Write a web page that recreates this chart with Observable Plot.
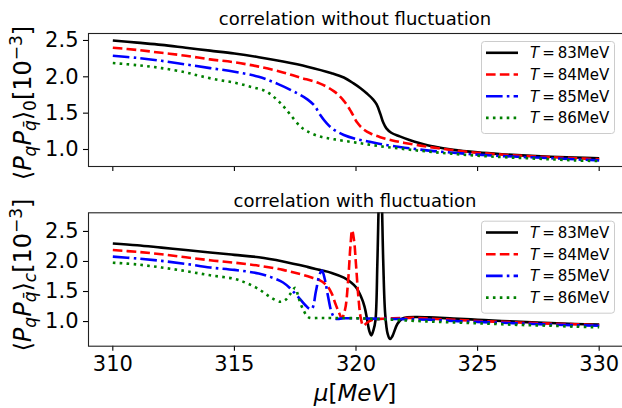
<!DOCTYPE html>
<html>
<head>
<meta charset="utf-8">
<script src="https://cdn.jsdelivr.net/npm/d3@7"></script>
<script src="https://cdn.jsdelivr.net/npm/@observablehq/plot@0.6"></script>
<style>
  html, body { margin: 0; padding: 0; background: white; }
  #wrap { position: relative; width: 622px; height: 408px; overflow: hidden; }
  #wrap svg { position: absolute; left: 0; display: block; }
</style>
</head>
<body>
<div id="wrap"></div>
<script>
// ---------- data ----------
const temps = [83, 84, 85, 86];
const xTicks = [310, 315, 320, 325, 330];
const yTicks = [1.0, 1.5, 2.0, 2.5];
const titleTop = "correlation without fluctuation";
const titleBottom = "correlation with fluctuation";

// top panel: without fluctuation
const muTop83 = [310,311,312,313,314,315,316,317,318,319,319.5,319.9,320.2,320.45,320.7,320.85,321.0,321.12,321.25,321.45,321.8,322.2,322.6,323.2,324,325,326,327,328,329,330];
const valTop83 = [2.50,2.47,2.44,2.40,2.36,2.32,2.27,2.21,2.14,2.05,1.99,1.91,1.84,1.77,1.69,1.62,1.49,1.37,1.29,1.23,1.18,1.13,1.09,1.04,0.995,0.96,0.935,0.915,0.90,0.89,0.88];
const muTop84 = [310,311,312,313,314,315,316,317,317.7,318.5,319.1,319.5,319.8,320.05,320.3,320.6,321,321.5,322,323,324,325,326,327,328,329,330];
const valTop84 = [2.40,2.37,2.33,2.29,2.24,2.20,2.14,2.06,1.99,1.91,1.80,1.67,1.52,1.37,1.28,1.22,1.17,1.125,1.09,1.035,0.99,0.955,0.93,0.91,0.895,0.88,0.865];
const muTop85 = [310,311,312,313,314,315,316,316.8,317.6,318.0,318.3,318.5,318.8,319.1,319.5,320,320.5,321,322,323,324,325,326,327,328,329,330];
const valTop85 = [2.29,2.26,2.22,2.17,2.12,2.07,2.00,1.90,1.77,1.69,1.60,1.49,1.36,1.27,1.20,1.145,1.11,1.075,1.025,0.985,0.955,0.93,0.91,0.895,0.88,0.865,0.85];
const muTop86 = [310,311,312,313,313.6,314.3,315,315.7,316.3,316.7,317.0,317.3,317.7,318.0,318.5,319.1,320,321,322,323,324,325,326,327,328,329,330];
const valTop86 = [2.19,2.16,2.12,2.06,2.01,1.96,1.92,1.86,1.80,1.70,1.60,1.48,1.32,1.25,1.18,1.14,1.095,1.045,1.005,0.97,0.94,0.915,0.895,0.88,0.865,0.85,0.84];

// bottom panel: with fluctuation
const muBot83 = [310,311,312,313,314,315,316,317,318,318.5,319,319.5,319.8,320.0,320.2,320.35,320.45,320.55,320.63,320.72,320.8,320.88,320.95,321.0,321.05,321.12,321.2,321.3,321.4,321.5,321.7,321.9,322.1,322.5,323,324,325,326,327,328,329,330];
const valBot83 = [2.30,2.27,2.23,2.19,2.15,2.11,2.07,2.00,1.91,1.86,1.81,1.73,1.65,1.57,1.42,1.25,1.05,0.84,0.77,0.86,1.02,2.0,3.2,3.6,3.2,2.0,1.13,0.80,0.71,0.76,0.96,1.05,1.07,1.075,1.07,1.05,1.03,1.01,0.99,0.975,0.96,0.95];
const muBot84 = [310,311,312,313,314,315,316,317,317.7,318.2,318.5,318.8,319.0,319.15,319.3,319.42,319.55,319.68,319.77,319.84,319.92,320.0,320.1,320.2,320.3,320.45,320.7,321,321.5,322,322.5,323,324,325,326,327,328,329,330];
const valBot84 = [2.19,2.16,2.12,2.07,2.02,1.98,1.93,1.86,1.79,1.73,1.69,1.60,1.47,1.30,1.15,1.06,1.20,1.70,2.25,2.52,2.35,1.95,1.40,1.05,0.93,0.98,1.03,1.045,1.055,1.06,1.06,1.05,1.03,1.01,0.995,0.98,0.965,0.955,0.94];
const muBot85 = [310,311,312,313,314,315,316,316.5,317,317.3,317.6,317.9,318.1,318.2,318.35,318.5,318.6,318.72,318.85,319.0,319.15,319.5,320,320.5,321,322,323,324,325,326,327,328,329,330];
const valBot85 = [2.08,2.05,2.01,1.96,1.90,1.86,1.80,1.74,1.65,1.55,1.42,1.28,1.21,1.22,1.50,1.78,1.85,1.70,1.42,1.15,1.05,1.055,1.055,1.05,1.045,1.04,1.03,1.01,0.995,0.98,0.965,0.95,0.94,0.93];
const muBot86 = [310,311,312,313,314,315,315.5,316,316.5,316.9,317.1,317.3,317.5,317.65,317.85,318.05,318.5,319,320,321,322,323,324,325,326,327,328,329,330];
const valBot86 = [1.98,1.95,1.90,1.84,1.77,1.71,1.64,1.54,1.40,1.33,1.36,1.46,1.56,1.38,1.18,1.07,1.06,1.06,1.055,1.04,1.02,1.00,0.985,0.97,0.955,0.94,0.93,0.915,0.905];

// ---------- styles ----------
const colors = ["black", "red", "blue", "green"];
const lw = 2.6;
const dashes = [null, "9.6,4.2", "16.6,4.2,2.6,4.2", "2.6,4.3"];
const FONT = "DejaVu Sans";

const topSeries = [[muTop83, valTop83], [muTop84, valTop84], [muTop85, valTop85], [muTop86, valTop86]];
const botSeries = [[muBot83, valBot83], [muBot84, valBot84], [muBot85, valBot85], [muBot86, valBot86]];

function makePanel({height, marginTop, marginBottom, yDomain, series, xLabels}) {
  const lineMarks = series.map(([mu, val], i) =>
    Plot.line(mu.map((m, k) => ({mu: m, v: val[k]})), {
      x: "mu", y: "v", stroke: colors[i], strokeWidth: lw,
      strokeDasharray: dashes[i], strokeLinecap: "butt", strokeLinejoin: "round",
      curve: "catmull-rom", clip: true
    })
  );
  return Plot.plot({
    width: 622, height,
    marginLeft: 88, marginRight: -1, marginTop, marginBottom,
    style: {fontFamily: FONT, color: "black", background: "white", overflow: "visible"},
    x: {domain: [309, 331]},
    y: {domain: yDomain},
    marks: [
      ...lineMarks,
      Plot.axisY({ticks: yTicks, tickFormat: d3.format(".1f"), tickSize: 5, tickPadding: 5,
                  fontSize: 21, label: null, strokeWidth: 1.1}),
      Plot.axisX({ticks: xTicks, tickFormat: xLabels ? d3.format("d") : () => "", tickSize: 5,
                  tickPadding: 5, fontSize: 21, label: null, strokeWidth: 1.1}),
      Plot.frame({stroke: "#222", strokeWidth: 1.1})
    ]
  });
}

const topSvg = makePanel({height: 180, marginTop: 33, marginBottom: 14, yDomain: [0.766, 2.596], series: topSeries, xLabels: false});
const botSvg = makePanel({height: 228, marginTop: 32.3, marginBottom: 62.3, yDomain: [0.59, 2.81], series: botSeries, xLabels: true});
topSvg.style.top = "0px";
botSvg.style.top = "180px";
const wrap = document.getElementById("wrap");
wrap.appendChild(topSvg);
wrap.appendChild(botSvg);

function addTitle(svg, text, y) {
  d3.select(svg).append("text").attr("x", 355).attr("y", y).attr("text-anchor", "middle")
    .attr("font-family", FONT).attr("font-size", 18).attr("fill", "black").text(text);
}
addTitle(topSvg, titleTop, 25);
addTitle(botSvg, titleBottom, 26.5);

function addYLabel(svg, cx, cy, sub, subItalic) {
  const t = d3.select(svg).append("text")
    .attr("transform", `translate(${cx},${cy}) rotate(-90)`)
    .attr("text-anchor", "middle").attr("font-family", FONT).attr("font-size", 24).attr("fill", "black");
  t.append("tspan").text("\u27E8");
  t.append("tspan").attr("font-style", "italic").text("P");
  t.append("tspan").attr("font-style", "italic").attr("font-size", 17).attr("dy", 5).text("q");
  t.append("tspan").attr("font-style", "italic").attr("dy", -5).text("P");
  t.append("tspan").attr("font-style", "italic").attr("font-size", 17).attr("dy", 5).text("q\u0304");
  t.append("tspan").attr("dy", -5).text("\u27E9");
  t.append("tspan").attr("font-size", 17).attr("dy", 5).attr("font-style", subItalic ? "italic" : "normal").text(sub);
  t.append("tspan").attr("dy", -5).text("[10");
  t.append("tspan").attr("font-size", 17).attr("dy", -9).text("\u22123");
  t.append("tspan").attr("dy", 9).text("]");
}
addYLabel(topSvg, 31, 103, "0", false);
addYLabel(botSvg, 31, 95, "c", true);

// x label
{
  const t = d3.select(botSvg).append("text").attr("x", 355).attr("y", 220.7).attr("text-anchor", "middle")
    .attr("font-family", FONT).attr("font-size", 23).attr("fill", "black");
  t.append("tspan").attr("font-style", "italic").text("\u03BC");
  t.append("tspan").text("[");
  t.append("tspan").attr("font-style", "italic").text("MeV");
  t.append("tspan").text("]");
}

function addLegend(svg, y0) {
  const g = d3.select(svg).append("g").attr("text-anchor", "start");
  g.append("rect").attr("x", 481.5).attr("y", y0 + 0.5).attr("width", 133).attr("height", 92)
    .attr("rx", 3).attr("fill", "white").attr("fill-opacity", 0.8).attr("stroke", "#cccccc");
  temps.forEach((T, i) => {
    const y = y0 + 11.8 + 21.7 * i;
    g.append("line").attr("x1", 486).attr("x2", 518).attr("y1", y).attr("y2", y)
      .attr("stroke", colors[i]).attr("stroke-width", lw).attr("stroke-dasharray", dashes[i])
      .attr("stroke-linecap", "butt");
    const t = g.append("text").attr("x", 530).attr("y", y + 5.4).attr("font-family", FONT)
      .attr("font-size", 15).attr("fill", "black").attr("text-anchor", "start");
    t.append("tspan").attr("font-style", "italic").text("T");
    t.append("tspan").text("\u2009=\u2009" + T + "MeV");
  });
}
addLegend(topSvg, 41);
addLegend(botSvg, 40.7);
</script>
</body>
</html>
